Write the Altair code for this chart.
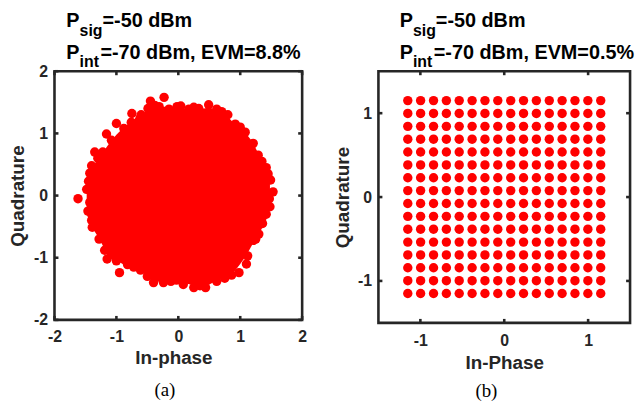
import altair as alt
import pandas as pd

# ---------------- data: panel (a) noisy constellation ----------------
# outer (individually visible) symbols of the cloud
edge_i = [-0.23, -0.45, -0.49, -0.31, -0.15, -0.02, 0.04, 0.17, 0.33, 0.49, 0.62, 0.80,
          0.92, 1.08, 1.21, 1.29, 1.42, 1.49, 1.53, 1.48, 1.36, 1.30, 1.21, 1.05, 1.12,
          1.10, 0.98, 0.86, 0.62, 0.44, 0.25, 0.08, -0.03, -0.24, -0.40, -0.61, -0.82,
          -0.95, -1.00, -1.15, -1.19, -1.39, -1.32, -1.43, -1.62, -1.48, -1.45, -1.43,
          -1.27, -1.14, -1.35, -1.22, -1.08, -0.95, -1.16, -1.00, -0.76, -0.75,
          -0.60, 0.25, 0.70, 1.00, 1.35, 1.45, 1.47, 1.42, 1.25, 0.75, 0.35, -0.12,
          -0.50, -0.72, -1.08, -1.28, -1.40, -1.46, -1.40, -1.30, -0.88, -0.62, -0.38]
edge_q = [1.58, 1.52, 1.40, 1.43, 1.39, 1.43, 1.44, 1.39, 1.40, 1.46, 1.39, 1.30,
          1.15, 1.02, 0.84, 0.65, 0.45, 0.25, 0.06, -0.18, -0.45, -0.62, -0.72, -0.83, -0.97,
          -1.10, -1.24, -1.28, -1.38, -1.48, -1.48, -1.43, -1.36, -1.40, -1.40, -1.20, -1.11,
          -1.24, -1.05, -1.02, -0.88, -0.51, -0.33, -0.11, -0.05, 0.10, 0.23, 0.36,
          0.41, 0.54, 0.70, 0.70, 0.89, 0.91, 0.99, 1.16, 1.18, 1.32,
          1.30, 1.42, 1.35, 1.10, 0.55, 0.35, -0.05, -0.30, -0.70, -1.33, -1.45, -1.38,
          -1.30, -1.15, -0.95, -0.70, -0.40, -0.25, 0.48, 0.60, 1.08, 1.24, 1.45]
# saturated (fully overlapping) body of the cloud: upper / lower outline per In-phase value
body_i = [-1.48, -1.40, -1.30, -1.20, -1.10, -1.00, -0.90, -0.80, -0.70, -0.60, -0.50,
          -0.40, -0.30, -0.20, -0.10, 0.00, 0.10, 0.20, 0.30, 0.40, 0.50, 0.60, 0.70,
          0.80, 0.90, 1.00, 1.10, 1.20, 1.30, 1.40, 1.48]
body_top = [0.30, 0.45, 0.58, 0.72, 0.86, 0.98, 1.08, 1.16, 1.24, 1.30, 1.37,
            1.41, 1.43, 1.43, 1.40, 1.41, 1.40, 1.38, 1.38, 1.40, 1.41, 1.37, 1.33,
            1.27, 1.16, 1.08, 0.99, 0.86, 0.66, 0.48, 0.28]
body_bot = [-0.30, -0.50, -0.66, -0.84, -0.97, -1.04, -1.10, -1.12, -1.17, -1.22, -1.30,
            -1.37, -1.39, -1.39, -1.37, -1.37, -1.41, -1.43, -1.45, -1.45, -1.43, -1.38, -1.33,
            -1.28, -1.23, -1.10, -0.96, -0.78, -0.62, -0.44, -0.22]
ticks_a = [-2, -1, 0, 1, 2]
title_a = ["P", "sig", "=-50 dBm", "P", "int", "=-70 dBm, EVM=8.8%"]

# ---------------- data: panel (b) clean 256-QAM ----------------
qam_levels = [-1.150, -0.997, -0.843, -0.690, -0.537, -0.383, -0.230, -0.077,
              0.077, 0.230, 0.383, 0.537, 0.690, 0.843, 0.997, 1.150]
ticks_b = [-1, 0, 1]
title_b = ["P", "sig", "=-50 dBm", "P", "int", "=-70 dBm, EVM=0.5%"]

RED = "#ff0000"
AX = "#262626"
SANS = "Liberation Sans"
SERIF = "Liberation Serif"
TICK = 4
DOT = 90


def text_layer(s, x, y, size, font=SANS, weight="bold", align="left", color="#000000"):
    return alt.Chart(pd.DataFrame({"s": [s]})).mark_text(
        font=font, fontSize=size, fontWeight=weight, align=align,
        baseline="alphabetic", color=color
    ).encode(x=alt.value(x), y=alt.value(y), text="s:N")


def title_layers(parts, x0):
    main, sub = 20, 16
    wP = 0.667 * main
    return [
        text_layer(parts[0], x0, -45, main),
        text_layer(parts[1], x0 + wP, -36, sub),
        text_layer(parts[2], x0 + wP + 1.445 * sub, -45, main),
        text_layer(parts[3], x0, -12.5, main),
        text_layer(parts[4], x0 + wP, -4, sub),
        text_layer(parts[5], x0 + wP + 1.222 * sub + 1.5, -12.5, main),
    ]


def axis(title, values, label_pad, tx, ty, vertical):
    kw = dict(
        title=title, values=values, ticks=False, grid=False, domain=False,
        labelExpr="'' + datum.value", labelFlush=False, labelOverlap=False,
        labelFont=SANS, labelFontSize=16, labelFontWeight="bold", labelColor=AX,
        labelPadding=label_pad,
        titleFont=SANS, titleFontSize=19, titleFontWeight="bold", titleColor=AX,
        titleX=tx, titleY=ty, titleBaseline="alphabetic",
    )
    if vertical:
        kw["titleAngle"] = 270
    return alt.Axis(**kw)


def tick_layers(ticks, xs, ys, xax, yax, W, H):
    df = pd.DataFrame({"t": ticks})
    base = alt.Chart(df).mark_rule(color=AX, strokeWidth=2.6)
    return [
        base.encode(x=alt.X("t:Q", scale=xs, axis=xax), y=alt.value(0), y2=alt.value(TICK)),
        base.encode(x=alt.X("t:Q", scale=xs, axis=xax), y=alt.value(H), y2=alt.value(H - TICK)),
        base.encode(y=alt.Y("t:Q", scale=ys, axis=yax), x=alt.value(0), x2=alt.value(TICK)),
        base.encode(y=alt.Y("t:Q", scale=ys, axis=yax), x=alt.value(W), x2=alt.value(W - TICK)),
    ]


# ---------------- panel (a) ----------------
WA, HA = 250, 251
xs_a = alt.Scale(domain=[-2, 2], nice=False, zero=False)
ys_a = alt.Scale(domain=[-2, 2], nice=False, zero=False)
xax_a = axis("In-phase", ticks_a, 9, 120, 44, False)
yax_a = axis("Quadrature", ticks_a, 7, -31, HA / 2, True)

frame_a = alt.Chart(pd.DataFrame({"s": [""]})).mark_rect(opacity=0).encode(
    x=alt.value(-53), x2=alt.value(583), y=alt.value(-68), y2=alt.value(335))

body = alt.Chart(pd.DataFrame({"i": body_i, "top": body_top, "bot": body_bot})).mark_area(
    color=RED, opacity=1, interpolate="linear"
).encode(
    x=alt.X("i:Q", scale=xs_a, axis=xax_a),
    y=alt.Y("top:Q", scale=ys_a, axis=yax_a),
    y2="bot:Q",
)
pts_a = alt.Chart(pd.DataFrame({"i": edge_i, "q": edge_q})).mark_circle(
    color=RED, size=DOT, opacity=1
).encode(
    x=alt.X("i:Q", scale=xs_a, axis=xax_a),
    y=alt.Y("q:Q", scale=ys_a, axis=yax_a),
)

panel_a = alt.layer(
    frame_a, body, pts_a,
    *tick_layers(ticks_a, xs_a, ys_a, xax_a, yax_a, WA, HA),
    *title_layers(title_a, 12),
    text_layer("(a)", 111.5, 328, 19, font=SERIF, weight="normal", align="center"),
).properties(width=WA, height=HA)

# ---------------- panel (b) ----------------
WB, HB = 254, 254
xs_b = alt.Scale(domain=[-1.5, 1.5], nice=False, zero=False)
ys_b = alt.Scale(domain=[-1.5, 1.5], nice=False, zero=False)
xax_b = axis("In-Phase", ticks_b, 10, WB / 2, 46, False)
yax_b = axis("Quadrature", ticks_b, 7, -30, HB / 2, True)

grid_df = pd.DataFrame([(i, q) for q in qam_levels for i in qam_levels], columns=["i", "q"])
pts_b = alt.Chart(grid_df).mark_circle(color=RED, size=DOT, opacity=1).encode(
    x=alt.X("i:Q", scale=xs_b, axis=xax_b),
    y=alt.Y("q:Q", scale=ys_b, axis=yax_b),
)

panel_b = alt.layer(
    pts_b,
    *tick_layers(ticks_b, xs_b, ys_b, xax_b, yax_b, WB, HB),
    *title_layers(title_b, 21.5),
    text_layer("(b)", 109, 328.5, 19, font=SERIF, weight="normal", align="center"),
).properties(width=WB, height=HB)

chart = alt.hconcat(panel_a, panel_b, spacing=77, bounds="flush").configure(
    padding=0, background="white"
).configure_view(stroke=AX, strokeWidth=2.6)

chart.save("out.html", embed_options={"renderer": "svg", "actions": False})
